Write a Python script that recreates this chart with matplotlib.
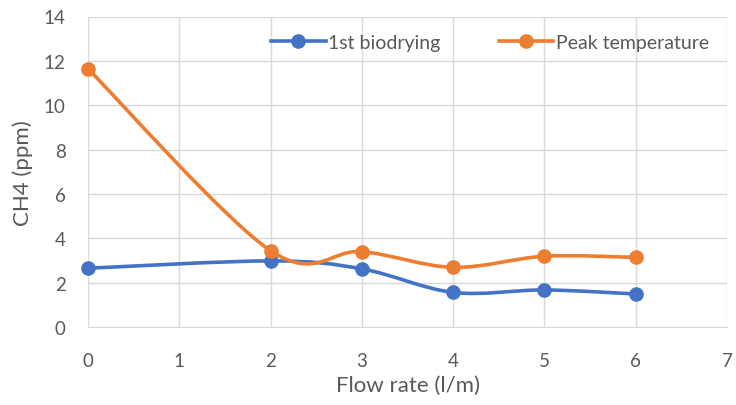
import numpy as np
import matplotlib
matplotlib.use("Agg")
import matplotlib.pyplot as plt
from matplotlib.path import Path
from matplotlib.patches import PathPatch

flow_rate = [0, 2, 3, 4, 5, 6]
biodrying = [2.65, 2.98, 2.62, 1.56, 1.67, 1.49]
peak_temp = [11.64, 3.44, 3.40, 2.69, 3.19, 3.14]
series_names = ["1st biodrying", "Peak temperature"]
colors = ["#4472C4", "#ED7D31"]

plt.rcParams['font.family'] = ['Lato', 'DejaVu Sans']
text_color = "#595959"

fig = plt.figure(figsize=(7.36, 4.06), dpi=100)
ax = fig.add_axes([88/736, 1-328/406, (727-88)/736, (328-17.5)/406])


def smooth_path(x, y):
    x = np.asarray(x, float)
    y = np.asarray(y, float)
    n = len(x)
    verts = [(x[0], y[0])]
    codes = [Path.MOVETO]
    for i in range(n - 1):
        i0 = max(i - 1, 0)
        i3 = min(i + 2, n - 1)
        c1 = (x[i] + (x[i+1] - x[i0]) / 6, y[i] + (y[i+1] - y[i0]) / 6)
        c2 = (x[i+1] - (x[i3] - x[i]) / 6, y[i+1] - (y[i3] - y[i]) / 6)
        verts += [c1, c2, (x[i+1], y[i+1])]
        codes += [Path.CURVE4] * 3
    return Path(verts, codes)


for vals, name, c in zip([biodrying, peak_temp], series_names, colors):
    ax.add_patch(PathPatch(smooth_path(flow_rate, vals), fill=False,
                           edgecolor=c, lw=2.6, zorder=3, capstyle='round'))
    ax.plot(flow_rate, vals, linestyle='none', marker='o', markersize=9.5,
            color=c, zorder=4, clip_on=False)
    ax.plot([], [], color=c, lw=2.6, marker='o', markersize=9.5, label=name)

ax.set_xlim(0, 7)
ax.set_ylim(0, 14)
ax.set_xticks(range(0, 8))
ax.set_yticks(range(0, 15, 2))
ax.grid(True, color="#d9d9d9", lw=1)
ax.set_axisbelow(True)
for s in ['top', 'right', 'left']:
    ax.spines[s].set_visible(False)
ax.spines['bottom'].set_color("#d9d9d9")
ax.tick_params(length=0, labelsize=13.5, colors=text_color)
ax.tick_params(axis='x', pad=18)
ax.tick_params(axis='y', pad=16)
ax.set_xlabel("Flow rate (l/m)", fontsize=16, color=text_color, labelpad=4)
ax.set_ylabel("CH4 (ppm)", fontsize=16, color=text_color, labelpad=8)

leg = ax.legend(loc='upper right', bbox_to_anchor=(1.0, 1.0), ncol=2,
                frameon=False, fontsize=14, handlelength=2.8,
                columnspacing=3.0, handletextpad=0.15)
for t in leg.get_texts():
    t.set_color(text_color)

fig.savefig("out.png", dpi=100)
